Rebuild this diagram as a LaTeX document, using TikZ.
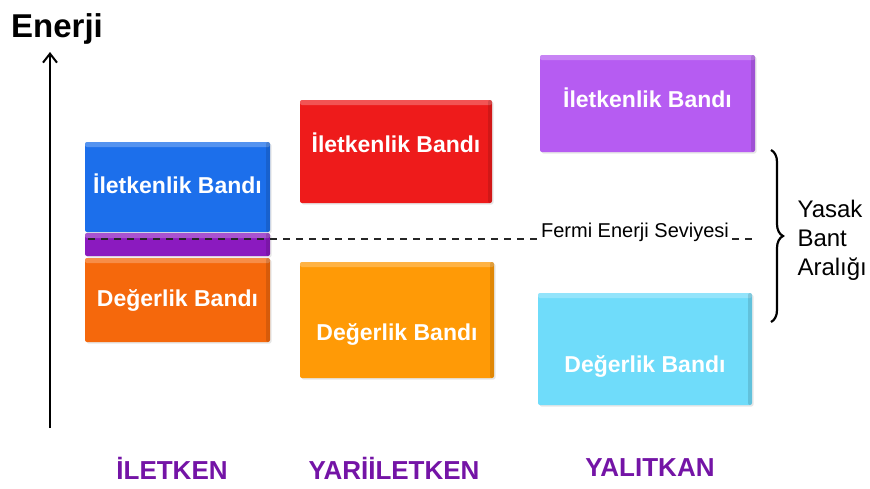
\documentclass[tikz,border=0pt]{standalone}
\usepackage{fontspec}
\setmainfont{Liberation Sans}
\usepackage{xcolor}
\usetikzlibrary{arrows.meta}
\usetikzlibrary{decorations.pathreplacing, shadows}
\definecolor{condblue}{HTML}{1C6FEB}
\definecolor{stripviolet}{HTML}{8B1ABF}
\definecolor{valorange}{HTML}{F5680C}
\definecolor{semired}{HTML}{EE1B1B}
\definecolor{valamber}{HTML}{FF9A06}
\definecolor{insviolet}{HTML}{B65CF2}
\definecolor{inscyan}{HTML}{6FDCFA}
\definecolor{kindpurple}{HTML}{7414A6}

\begin{document}
\begin{tikzpicture}[x=1pt, y=-1pt,
  band/.style={rounded corners=2pt, fill=#1, inner sep=0pt,
    drop shadow={opacity=.2, shadow xshift=1.5pt, shadow yshift=-1.5pt},
    path picture={
      \fill[white, opacity=.25] (path picture bounding box.north west) rectangle ([yshift=-5pt]path picture bounding box.north east);
      \fill[black, opacity=.12] (path picture bounding box.south east) rectangle ([xshift=-4pt]path picture bounding box.north east);
    }},
  bandtext/.style={text=white, font=\bfseries\fontsize{23}{27}\selectfont},
  kind/.style={text=kindpurple, font=\bfseries\fontsize{26}{30}\selectfont}]
\useasboundingbox (0,0) rectangle (870,488);

 % axis
 \node[anchor=base west, font=\bfseries\fontsize{33}{36}\selectfont, inner sep=0pt] (energy) at (11,37) {Enerji};
 \coordinate (axbot) at (50,428);
 \coordinate (axtop) at (50,52);
 \draw[-{Straight Barb[length=9pt, width=14pt]}, line width=2pt] (axbot) -- (axtop);

 % iletken
 \node[band=condblue, minimum width=185pt, minimum height=90pt] (cb1) at (177.5,187) {};
 \node[band=stripviolet, minimum width=185pt, minimum height=23pt] (strip) at (177.5,244.5) {};
 \node[band=valorange, minimum width=185pt, minimum height=84pt] (vb1) at (177.5,300) {};
 \node[bandtext] (cb1t) at ([yshift=3pt]cb1.center) {İletkenlik Bandı};
 \node[bandtext] (vb1t) at (vb1.center) {Değerlik Bandı};

 % yariiletken
 \node[band=semired, minimum width=192pt, minimum height=103pt] (cb2) at (396,151.5) {};
 \node[band=valamber, minimum width=194pt, minimum height=116pt] (vb2) at (397,320) {};
 \node[bandtext] (cb2t) at ([yshift=9pt]cb2.center) {İletkenlik Bandı};
 \node[bandtext] (vb2t) at ([yshift=-14pt]vb2.center) {Değerlik Bandı};

 % yalitkan
 \node[band=insviolet, minimum width=215pt, minimum height=97pt] (cb3) at (647.5,103.5) {};
 \node[band=inscyan, minimum width=214pt, minimum height=112pt] (vb3) at (645,349) {};
 \node[bandtext] (cb3t) at ([yshift=6pt]cb3.center) {İletkenlik Bandı};
 \node[bandtext] (vb3t) at ([yshift=-17pt]vb3.center) {Değerlik Bandı};

 % fermi level
 \node[anchor=base, inner sep=3pt, font=\fontsize{20}{23}\selectfont] (fermi) at (635,237) {Fermi Enerji Seviyesi};
 \coordinate (fstart) at (88,239);
 \coordinate (fend) at (756,239);
 \draw[black!85, line width=1.7pt, dash pattern=on 7pt off 6pt] (fstart) -- (fstart -| fermi.west);
 \draw[black!85, line width=1.7pt, dash pattern=on 7pt off 6pt] (fend -| fermi.east) -- (fend);

 % band gap
 \coordinate (gaptop) at (771,150);
 \coordinate (gapbot) at (771,322);
 \draw[line width=2.2pt, decorate, decoration={brace, amplitude=12pt}] (gaptop) -- (gapbot);
 \node[anchor=west, align=left, font=\fontsize{24}{29}\selectfont] (gap) at (794,240) {Yasak\\Bant\\Aralığı};

 % labels
 \node[kind] (k1) at (172,468) {İLETKEN};
 \node[kind] (k2) at (394,468) {YARİİLETKEN};
 \node[kind] (k3) at (650,468) {YALITKAN};
\end{tikzpicture}
\end{document}
